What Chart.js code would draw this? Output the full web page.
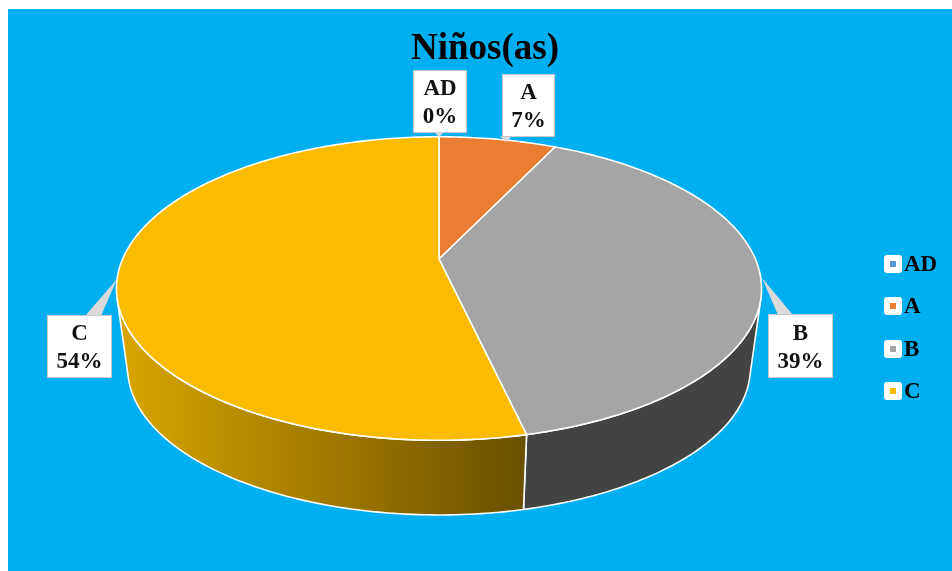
<!DOCTYPE html>
<html lang="es">
<head>
    <meta charset="UTF-8">
    <title>Niños(as)</title>
    <script src="https://cdn.jsdelivr.net/npm/chart.js@4.4.0/dist/chart.umd.min.js"></script>
    <style>
        html, body { margin: 0; background: #fff; overflow: hidden; }
        canvas { position: absolute; left: 8px; top: 9px; background: #00AFF0; }
    </style>
</head>
<body>
    <canvas id="pie" width="944" height="562"></canvas>

    <script>
        const chartTitle = 'Niños(as)';
        const categories = ['AD', 'A', 'B', 'C'];
        const shares = [0, 7.1, 39.3, 53.6];
        const percentLabels = ['0%', '7%', '39%', '54%'];
        const sliceColors = ['#5B9BD5', '#EA7D31', '#A5A5A5', '#FBBC00'];

        // Callout boxes (x, y, w, h in canvas pixels) and their leader wedges
        const calloutBoxes = [
            [405, 61, 54, 63],
            [494, 65, 53, 63],
            [760, 305, 65, 64],
            [39, 306, 65, 63]
        ];
        const calloutTips = [
            [431, 128, 426, 436],
            [498, 133, 492, 504],
            [754, 269, 770, 785],
            [109, 270, 77, 93]
        ];
        const legendRows = [255, 297, 340, 382];

        const FONT = '"Liberation Serif", serif';
        const STRETCH_X = 2.167;   // width of the flattened disc against its height
        const PERSPECTIVE = 0.1947; // far edge is squeezed, near edge is enlarged
        const DEPTH = 81;          // how far the lower rim sits under the top face
        const LOWER_SCALE = 0.965;
        const WALL_FROM = 105 * Math.PI / 180;
        const WALL_TO = 255 * Math.PI / 180;

        // Angle measured clockwise from 12 o'clock -> point on a rim
        function rimPoint(arc, theta, shift, scale) {
            const r = arc.outerRadius * scale;
            const w = 1 + PERSPECTIVE * Math.cos(theta);
            return [arc.x + r * STRETCH_X * Math.sin(theta) / w, arc.y + shift - r * Math.cos(theta) / w];
        }

        function traceRim(ctx, arc, from, to, shift, scale) {
            const steps = Math.max(2, Math.ceil(Math.abs(to - from) * 60));
            for (let i = 0; i <= steps; i++) {
                const p = rimPoint(arc, from + (to - from) * i / steps, shift, scale);
                ctx.lineTo(p[0], p[1]);
            }
        }

        const tiltedPie = {
            id: 'tiltedPie',
            beforeDatasetsDraw(chart) {
                const ctx = chart.ctx;
                const arcs = chart.getDatasetMeta(0).data;
                const top = a => a.startAngle + Math.PI / 2;
                const end = a => a.endAngle + Math.PI / 2;
                ctx.save();
                ctx.lineJoin = 'round';
                ctx.strokeStyle = '#fff';
                ctx.lineWidth = 1.6;

                // Side wall, only the part that faces the viewer
                arcs.forEach((arc, i) => {
                    const from = Math.max(top(arc), WALL_FROM);
                    const to = Math.min(end(arc), WALL_TO);
                    if (to <= from) return;
                    ctx.beginPath();
                    traceRim(ctx, arc, from, to, 0, 1);
                    traceRim(ctx, arc, to, from, DEPTH, LOWER_SCALE);
                    ctx.closePath();
                    const grad = ctx.createLinearGradient(112, 0, 516, 0);
                    if (i === 3) {
                        grad.addColorStop(0, '#D9A500');
                        grad.addColorStop(1, '#6A5000');
                    } else {
                        grad.addColorStop(0, '#434343');
                        grad.addColorStop(1, '#434343');
                    }
                    ctx.fillStyle = grad;
                    ctx.fill();
                    ctx.stroke();
                });

                // Top face
                arcs.forEach((arc, i) => {
                    ctx.beginPath();
                    ctx.moveTo(arc.x, arc.y);
                    traceRim(ctx, arc, top(arc), end(arc), 0, 1);
                    ctx.closePath();
                    ctx.fillStyle = sliceColors[i];
                    ctx.fill();
                    ctx.stroke();
                });
                ctx.restore();
                return false;
            },
            afterDraw(chart) {
                const ctx = chart.ctx;
                ctx.save();
                ctx.textAlign = 'center';
                ctx.textBaseline = 'middle';

                ctx.fillStyle = '#000';
                ctx.font = 'bold 37px ' + FONT;
                ctx.fillText(chartTitle, 477, 40);

                categories.forEach((name, i) => {
                    const [x, y, w, h] = calloutBoxes[i];
                    const [tipX, tipY, baseA, baseB] = calloutTips[i];
                    const baseY = tipY > y ? y + h - 1 : y + 1;
                    ctx.fillStyle = '#DADADA';
                    ctx.beginPath();
                    ctx.moveTo(tipX, tipY);
                    ctx.lineTo(baseA, baseY);
                    ctx.lineTo(baseB, baseY);
                    ctx.closePath();
                    ctx.fill();

                    ctx.fillStyle = '#fff';
                    ctx.strokeStyle = '#C8C8C8';
                    ctx.lineWidth = 1;
                    ctx.fillRect(x, y, w, h);
                    ctx.strokeRect(x + 0.5, y + 0.5, w - 1, h - 1);

                    ctx.fillStyle = '#111';
                    ctx.font = 'bold 23px ' + FONT;
                    ctx.fillText(name, x + w / 2, y + h / 2 - 12);
                    ctx.fillText(percentLabels[i], x + w / 2, y + h / 2 + 16);
                });

                // Legend
                ctx.textAlign = 'left';
                categories.forEach((name, i) => {
                    const y = legendRows[i];
                    ctx.fillStyle = '#fff';
                    ctx.beginPath();
                    ctx.roundRect(876, y - 9, 18, 18, 3);
                    ctx.fill();
                    ctx.fillStyle = sliceColors[i];
                    ctx.fillRect(882, y - 3, 6, 6);
                    ctx.fillStyle = '#000';
                    ctx.font = 'bold 23px ' + FONT;
                    ctx.fillText(name, 896, y + 1);
                });
                ctx.restore();
            }
        };

        new Chart(document.getElementById('pie').getContext('2d'), {
            type: 'pie',
            data: {
                labels: categories,
                datasets: [{ data: shares, backgroundColor: sliceColors, borderWidth: 0 }]
            },
            options: {
                responsive: false,
                animation: false,
                devicePixelRatio: 1,
                layout: { padding: { left: 0, right: 82, top: 104, bottom: 166 } },
                plugins: { legend: { display: false }, tooltip: { enabled: false } }
            },
            plugins: [tiltedPie]
        });
    </script>
</body>
</html>
